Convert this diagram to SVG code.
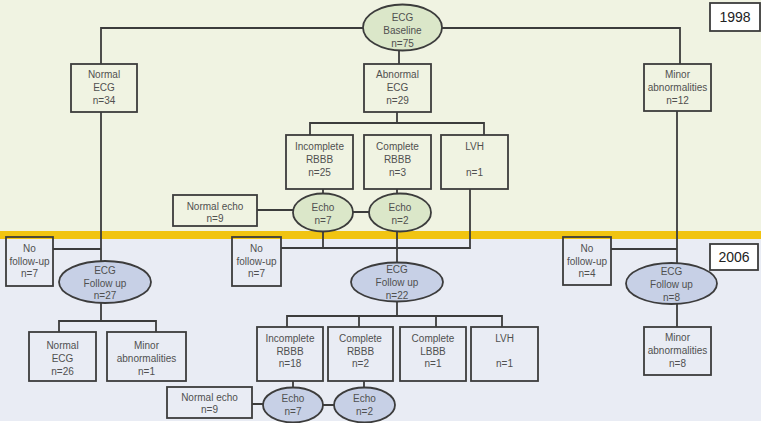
<svg xmlns="http://www.w3.org/2000/svg" width="763" height="423" viewBox="0 0 763 423">
<style>
.bx{fill:none;stroke:#3c3c3c;stroke-width:1.8}
.yb{fill:#ffffff;stroke:#3c3c3c;stroke-width:1.8}
.eg{fill:#dbe7c9;stroke:#3c3c3c;stroke-width:1.8}
.eb{fill:#c7d0e6;stroke:#3c3c3c;stroke-width:1.8}
.cn{fill:none;stroke:#3c3c3c;stroke-width:1.8}
text{font-family:"Liberation Sans",Arial,sans-serif;font-size:10px;fill:#505050;text-anchor:middle}
.yr{font-size:14px;fill:#222222}
</style>
<rect x="0" y="0" width="763" height="423" fill="#ffffff"/>
<rect x="0" y="0" width="761" height="231" fill="#f0f3e2"/>
<rect x="0" y="239" width="761" height="182" fill="#e9ecf4"/>
<rect x="0" y="231" width="761" height="8" fill="#f1c411"/>
<g id="connectors">
<path class="cn" d="M101,64 V28 H363 M442,28 H680 V64 M399,50.5 V64"/>
<path class="cn" d="M101,112 V261 M53,249 H101 M101,303 V321 M59,332 V321 H156 V332"/>
<path class="cn" d="M397,112 V123 M310,135 V123 H484 V135"/>
<path class="cn" d="M323,189 V193.5 M397,189 V193.5 M257,210 H293 M353,212 H369"/>
<path class="cn" d="M323,231.5 V248 M397,231.5 V262.5 M470,189 V248 H281"/>
<path class="cn" d="M397,301.5 V316 M287,327 V316 H502 V327 M359,316 V327 M436,316 V327"/>
<path class="cn" d="M293,381 V387.5 M364,381 V387.5 M252,404 H263 M323,405 H334"/>
<path class="cn" d="M677,111 V263 M611,249 H677 M677,304 V327"/>
</g>
<g id="year1998"><rect class="yb" x="710" y="3" width="50" height="28"/><text class="yr" x="735" y="22">1998</text></g>
<g id="year2006"><rect class="yb" x="710" y="244" width="48" height="26"/><text class="yr" x="734" y="262">2006</text></g>
<g id="baseline"><ellipse class="eg" cx="402.5" cy="27.5" rx="39.5" ry="23"/><text x="402.5" y="20.5">ECG</text><text x="402.5" y="33.5">Baseline</text><text x="402.5" y="46.5">n=75</text></g>
<g id="normalECG1"><rect class="bx" x="71" y="64" width="66" height="48"/><text x="104" y="78">Normal</text><text x="104" y="91">ECG</text><text x="104" y="104">n=34</text></g>
<g id="abnormalECG1"><rect class="bx" x="364" y="64" width="67" height="48"/><text x="397.5" y="78">Abnormal</text><text x="397.5" y="91">ECG</text><text x="397.5" y="104">n=29</text></g>
<g id="minor1"><rect class="bx" x="644" y="64" width="67" height="47"/><text x="677.5" y="78">Minor</text><text x="677.5" y="91">abnormalities</text><text x="677.5" y="104">n=12</text></g>
<g id="incRBBB1"><rect class="bx" x="286" y="135" width="67" height="54"/><text x="319.5" y="149.5">Incomplete</text><text x="319.5" y="162.5">RBBB</text><text x="319.5" y="175.5">n=25</text></g>
<g id="comRBBB1"><rect class="bx" x="364" y="135" width="67" height="54"/><text x="397.5" y="149.5">Complete</text><text x="397.5" y="162.5">RBBB</text><text x="397.5" y="175.5">n=3</text></g>
<g id="LVH1"><rect class="bx" x="441" y="135" width="67" height="54"/><text x="474.5" y="149.5">LVH</text><text x="474.5" y="175.5">n=1</text></g>
<g id="echo7a"><ellipse class="eg" cx="323" cy="212.5" rx="30" ry="19"/><text x="323" y="210.5">Echo</text><text x="323" y="223.5">n=7</text></g>
<g id="echo2a"><ellipse class="eg" cx="400" cy="212.5" rx="31" ry="19"/><text x="400" y="210.5">Echo</text><text x="400" y="223.5">n=2</text></g>
<g id="normalEcho1"><rect class="bx" x="173" y="195" width="84" height="31"/><text x="215" y="209.5">Normal echo</text><text x="215" y="221.5">n=9</text></g>
<g id="noFU1"><rect class="bx" x="6" y="237" width="47" height="49"/><text x="29.5" y="251.5">No</text><text x="29.5" y="264.5">follow-up</text><text x="29.5" y="277">n=7</text></g>
<g id="noFU2"><rect class="bx" x="232" y="237" width="49" height="49"/><text x="256.5" y="251.5">No</text><text x="256.5" y="264.5">follow-up</text><text x="256.5" y="277">n=7</text></g>
<g id="noFU3"><rect class="bx" x="563" y="237" width="48" height="48"/><text x="587" y="251.5">No</text><text x="587" y="264.5">follow-up</text><text x="587" y="277">n=4</text></g>
<g id="fu27"><ellipse class="eb" cx="105" cy="282" rx="46" ry="21"/><text x="105" y="273.5">ECG</text><text x="105" y="286.5">Follow up</text><text x="105" y="299">n=27</text></g>
<g id="fu22"><ellipse class="eb" cx="397" cy="282" rx="46" ry="19.5"/><text x="397" y="273">ECG</text><text x="397" y="286">Follow up</text><text x="397" y="298.5">n=22</text></g>
<g id="fu8"><ellipse class="eb" cx="671.5" cy="283.5" rx="45.5" ry="20.5"/><text x="671.5" y="275">ECG</text><text x="671.5" y="288">Follow up</text><text x="671.5" y="300.5">n=8</text></g>
<g id="normalECG2"><rect class="bx" x="29" y="332" width="67" height="49"/><text x="62.5" y="348.5">Normal</text><text x="62.5" y="361.5">ECG</text><text x="62.5" y="374.5">n=26</text></g>
<g id="minor2"><rect class="bx" x="107" y="332" width="79" height="49"/><text x="146.5" y="348.5">Minor</text><text x="146.5" y="361.5">abnormalities</text><text x="146.5" y="374.5">n=1</text></g>
<g id="incRBBB2"><rect class="bx" x="257" y="327" width="66" height="54"/><text x="290" y="341.5">Incomplete</text><text x="290" y="354.5">RBBB</text><text x="290" y="367">n=18</text></g>
<g id="comRBBB2"><rect class="bx" x="328" y="327" width="65" height="54"/><text x="360.5" y="341.5">Complete</text><text x="360.5" y="354.5">RBBB</text><text x="360.5" y="367">n=2</text></g>
<g id="comLBBB2"><rect class="bx" x="400" y="327" width="66" height="54"/><text x="433" y="341.5">Complete</text><text x="433" y="354.5">LBBB</text><text x="433" y="367">n=1</text></g>
<g id="LVH2"><rect class="bx" x="471" y="327" width="67" height="54"/><text x="504.5" y="341.5">LVH</text><text x="504.5" y="367">n=1</text></g>
<g id="minor3"><rect class="bx" x="644" y="327" width="67" height="48"/><text x="677.5" y="341">Minor</text><text x="677.5" y="354">abnormalities</text><text x="677.5" y="366.5">n=8</text></g>
<g id="echo7b"><ellipse class="eb" cx="293" cy="405" rx="30" ry="17.5"/><text x="293" y="401.5">Echo</text><text x="293" y="414.5">n=7</text></g>
<g id="echo2b"><ellipse class="eb" cx="364.5" cy="405" rx="30.5" ry="17.5"/><text x="364.5" y="401.5">Echo</text><text x="364.5" y="414.5">n=2</text></g>
<g id="normalEcho2"><rect class="bx" x="167" y="387" width="85" height="31"/><text x="209.5" y="401">Normal echo</text><text x="209.5" y="413">n=9</text></g>
</svg>
